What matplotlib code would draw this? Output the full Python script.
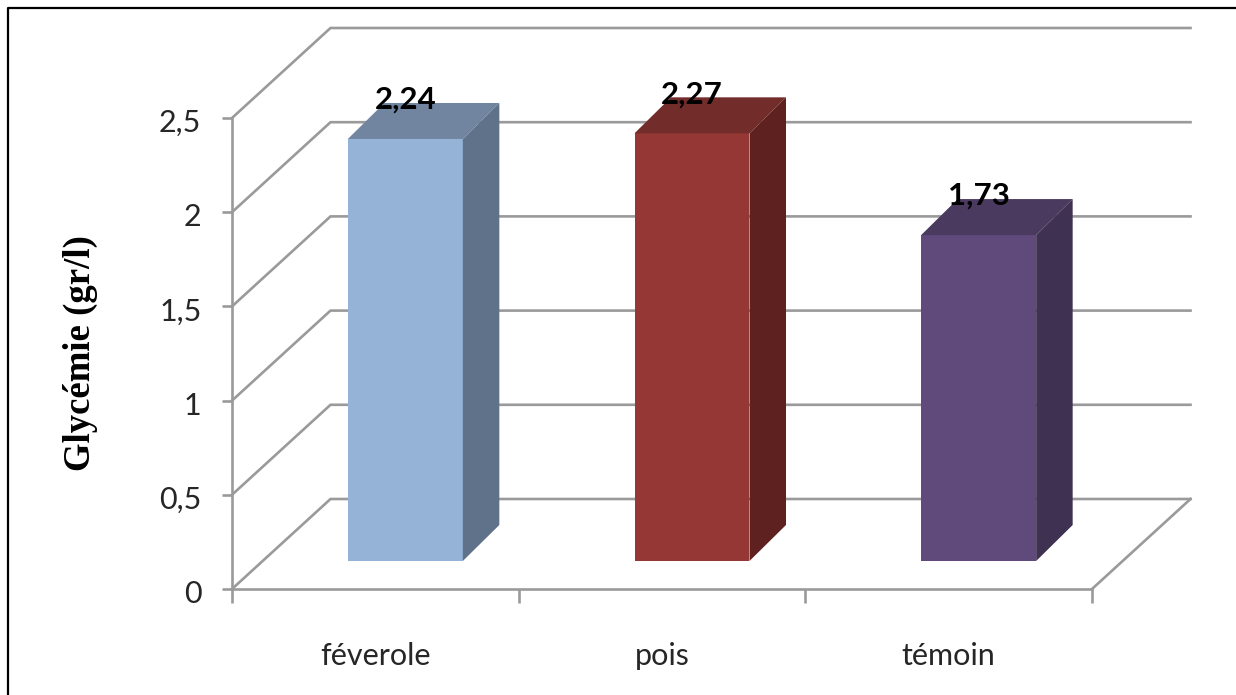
import matplotlib
matplotlib.use('Agg')
import matplotlib.pyplot as plt
from matplotlib.lines import Line2D
from matplotlib.patches import Polygon
from matplotlib.transforms import ScaledTranslation

# data
categories = ['féverole', 'pois', 'témoin']
glycemie = [2.24, 2.27, 1.73]
value_labels = ['2,24', '2,27', '1,73']
y_ticks = [0, 0.5, 1, 1.5, 2, 2.5]
y_tick_labels = ['0', '0,5', '1', '1,5', '2', '2,5']

front_colors = ['#95b3d7', '#953735', '#604a7b']
top_colors = ['#7185a1', '#722c2a', '#4b3a60']
side_colors = ['#5f7289', '#5e2120', '#3f3151']

GRID = '#9a9a9a'
TEXT = '#262626'
FONT = 'Lato'
W, H = 1236, 695

fig = plt.figure(figsize=(W / 100, H / 100), dpi=100, facecolor='white')
ax = fig.add_axes([232 / W, (H - 589) / H, 860 / W, 471 / H])
ax.set_xlim(-0.5, 2.5)
ax.set_ylim(0, 2.5)
ax.patch.set_visible(False)

# pixels to data units, for the fake 3d depth
ux = 3 / 860
uy = 2.5 / 471
wall_dx, wall_dy = 98.5 * ux, 90 * uy
bar_dx, bar_dy = 30 * ux, 28 * uy
side_dx, side_dy = 36.5 * ux, 36 * uy
bar_width = 115 * ux

# side wall and back wall lines
for t in y_ticks:
    ax.plot([-0.5, -0.5 + wall_dx, 2.5 + wall_dx], [t, t + wall_dy, t + wall_dy],
            color=GRID, lw=1.9, clip_on=False, zorder=1, solid_joinstyle='miter')
ax.plot([2.5, 2.5 + wall_dx], [0, wall_dy], color=GRID, lw=1.9, clip_on=False, zorder=1)

# bars as three polygons each
for i, v in enumerate(glycemie):
    x0 = i - bar_width / 2 + bar_dx
    x1 = i + bar_width / 2 + bar_dx
    y0 = bar_dy
    y1 = v + bar_dy
    ax.add_patch(Polygon([(x0, y0), (x1, y0), (x1, y1), (x0, y1)],
                         fc=front_colors[i], ec='none', clip_on=False, zorder=3))
    ax.add_patch(Polygon([(x0, y1), (x1, y1), (x1 + side_dx, y1 + side_dy), (x0 + side_dx, y1 + side_dy)],
                         fc=top_colors[i], ec='none', clip_on=False, zorder=3))
    ax.add_patch(Polygon([(x1, y0), (x1 + side_dx, y0 + side_dy), (x1 + side_dx, y1 + side_dy), (x1, y1)],
                         fc=side_colors[i], ec='none', clip_on=False, zorder=3))
    ax.text(i + bar_dx, y1 + 39 * uy, value_labels[i], ha='center', va='center',
            fontsize=22.5, fontweight='bold', family=FONT, color='black',
            clip_on=False, zorder=5)

# axes
for s in ['top', 'right']:
    ax.spines[s].set_visible(False)
for s in ['left', 'bottom']:
    ax.spines[s].set_color(GRID)
    ax.spines[s].set_linewidth(1.9)
    ax.spines[s].set_zorder(2)

ax.set_yticks(y_ticks)
ax.set_yticklabels(y_tick_labels, fontsize=22, family=FONT, color=TEXT)
ax.tick_params(axis='y', length=7, width=1.9, color=GRID, pad=15)
shift_down = ScaledTranslation(0, -5 / 100, fig.dpi_scale_trans)
for lab in ax.get_yticklabels():
    lab.set_verticalalignment('center')
    lab.set_transform(lab.get_transform() + shift_down)

ax.set_xticks([-0.5, 0.5, 1.5, 2.5])
ax.set_xticklabels([])
ax.set_xticks([0, 1, 2], minor=True)
ax.set_xticklabels(categories, minor=True, fontsize=22, family=FONT, color=TEXT)
ax.tick_params(axis='x', which='major', length=10, width=1.9, color=GRID)
ax.tick_params(axis='x', which='minor', length=0, pad=38)

fig.text(80 / W, (H - 353) / H, 'Glycémie (gr/l)', rotation=90, ha='center', va='center',
         fontsize=26.5, fontweight='bold', family='Liberation Serif', color='black')

# page border, only left and top fall inside the image
fig.add_artist(Line2D([8 / W, 8 / W, 1], [0, (H - 8) / H, (H - 8) / H],
                      color='black', lw=1.6, transform=fig.transFigure))

fig.savefig('out.png', dpi=100)
